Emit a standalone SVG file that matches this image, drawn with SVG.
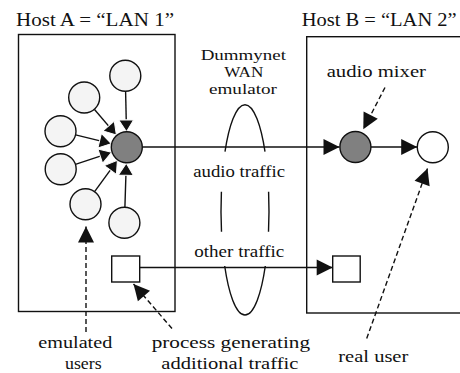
<svg xmlns="http://www.w3.org/2000/svg" width="460" height="373" viewBox="0 0 460 373">
<style>
text{fill:#111}
.t{font-size:19px}
.l{font-size:16.5px}
.e{font-size:15px}
.box{fill:none;stroke:#111;stroke-width:1.4}
.sat{fill:#f4f4f4;stroke:#111;stroke-width:1.4}
.hub{fill:#808080;stroke:#111;stroke-width:1.4}
.wn{fill:#fff;stroke:#111;stroke-width:1.4}
.ln{fill:none;stroke:#111;stroke-width:1.4}
.sm{marker-end:url(#ah)}
.bg{marker-end:url(#ab)}
.da{fill:none;stroke:#111;stroke-width:1.4;stroke-dasharray:5 3;marker-end:url(#ab)}
.el{fill:none;stroke:#111;stroke-width:1.4}
</style>
<defs>
<marker id="ah" markerUnits="userSpaceOnUse" markerWidth="14" markerHeight="16" refX="12" refY="7.5" orient="auto" overflow="visible">
<path d="M0,0 L12,7.5 L0,15 z" fill="#111" stroke="#fff" stroke-width="1"/>
</marker>
<marker id="ab" markerUnits="userSpaceOnUse" markerWidth="18" markerHeight="18" refX="16" refY="8" orient="auto" overflow="visible">
<path d="M0,0 L16,8 L0,16 z" fill="#111"/>
</marker>
</defs>

<g font-family="'Liberation Serif', 'Times New Roman', serif">
<g id="hostA">
<rect class="box" x="18.5" y="34.5" width="156.5" height="277"/>
<text class="t" x="16" y="26" textLength="158" lengthAdjust="spacingAndGlyphs">Host A = “LAN 1”</text>
</g>
<g id="hostB">
<rect class="box" x="306.7" y="36.7" width="170" height="276.3"/>
<text class="t" x="301.7" y="26" textLength="155" lengthAdjust="spacingAndGlyphs">Host B = “LAN 2”</text>
</g>

<g id="emulator">
<text class="e" x="200.7" y="59.5" textLength="85.3" lengthAdjust="spacingAndGlyphs">Dummynet</text>
<text class="e" x="224.3" y="76.5" textLength="39" lengthAdjust="spacingAndGlyphs">WAN</text>
<text class="e" x="209" y="93.5" textLength="68" lengthAdjust="spacingAndGlyphs">emulator</text>
<path class="el" d="M225,151.7 A24,105 0 0 1 265,151.7"/>
<path class="el" d="M221.4,191.7 A24,105 0 0 0 221.5,231.7"/>
<path class="el" d="M268.6,191.7 A24,105 0 0 1 268.5,231.7"/>
<path class="el" d="M224.7,266 A24,105 0 0 0 265.3,266"/>
</g>

<g id="connectors">
<line class="ln sm" x1="125.6" y1="91.3" x2="126.5" y2="131.8"/>
<line class="ln sm" x1="94.3" y1="109.3" x2="116.4" y2="135.1"/>
<line class="ln sm" x1="75.6" y1="134.9" x2="111.3" y2="143.6"/>
<line class="ln sm" x1="75.4" y1="164.3" x2="111.6" y2="152.3"/>
<line class="ln sm" x1="94.6" y1="191.7" x2="117.4" y2="160.3"/>
<line class="ln sm" x1="124.9" y1="207.3" x2="126.3" y2="163.3"/>
<line class="ln bg" x1="142.3" y1="147" x2="339.5" y2="147"/>
<line class="ln bg" x1="371" y1="147" x2="417.2" y2="147"/>
<line class="ln bg" x1="139.7" y1="267.5" x2="332.7" y2="267.5"/>
<line class="da" x1="385" y1="87.5" x2="363.3" y2="129.3"/>
<line class="da" x1="366.7" y1="338.5" x2="427.5" y2="168.5"/>
<line class="da" x1="86" y1="332" x2="86" y2="226.5"/>
<line class="da" x1="172" y1="328.5" x2="133.5" y2="284"/>
</g>

<g id="emulated-users">
<circle class="sat" cx="125.3" cy="75.8" r="15.5"/>
<circle class="sat" cx="84.2" cy="97.5" r="15.5"/>
<circle class="sat" cx="60.5" cy="131.3" r="15.5"/>
<circle class="sat" cx="60.7" cy="169.2" r="15.5"/>
<circle class="sat" cx="85.5" cy="204.2" r="15.5"/>
<circle class="sat" cx="124.4" cy="222.8" r="15.5"/>
</g>
<g id="hubA"><circle class="hub" cx="126.8" cy="147.3" r="15.5"/></g>
<g id="mixer"><circle class="hub" cx="355.4" cy="147" r="15.5"/></g>
<g id="realUser"><circle class="wn" cx="432.8" cy="147.3" r="15.5"/></g>
<g id="procA"><rect class="wn" x="111.7" y="256" width="28" height="26"/></g>
<g id="procB"><rect class="wn" x="332.7" y="256" width="27.5" height="26"/></g>

<g id="labels">
<text class="l" x="193.3" y="176.5" textLength="91.7" lengthAdjust="spacingAndGlyphs">audio traffic</text>
<text class="l" x="194.3" y="256.5" textLength="90" lengthAdjust="spacingAndGlyphs">other traffic</text>
<text class="l" x="326.7" y="77" textLength="99.3" lengthAdjust="spacingAndGlyphs">audio mixer</text>
<text class="l" x="38.3" y="347.5" textLength="74" lengthAdjust="spacingAndGlyphs">emulated</text>
<text class="l" x="65" y="369" textLength="36.7" lengthAdjust="spacingAndGlyphs">users</text>
<text class="l" x="151.7" y="347.5" textLength="158.3" lengthAdjust="spacingAndGlyphs">process generating</text>
<text class="l" x="161.3" y="369" textLength="137" lengthAdjust="spacingAndGlyphs">additional traffic</text>
<text class="l" x="338.3" y="361.7" textLength="70" lengthAdjust="spacingAndGlyphs">real user</text>
</g>
</g>
</svg>
